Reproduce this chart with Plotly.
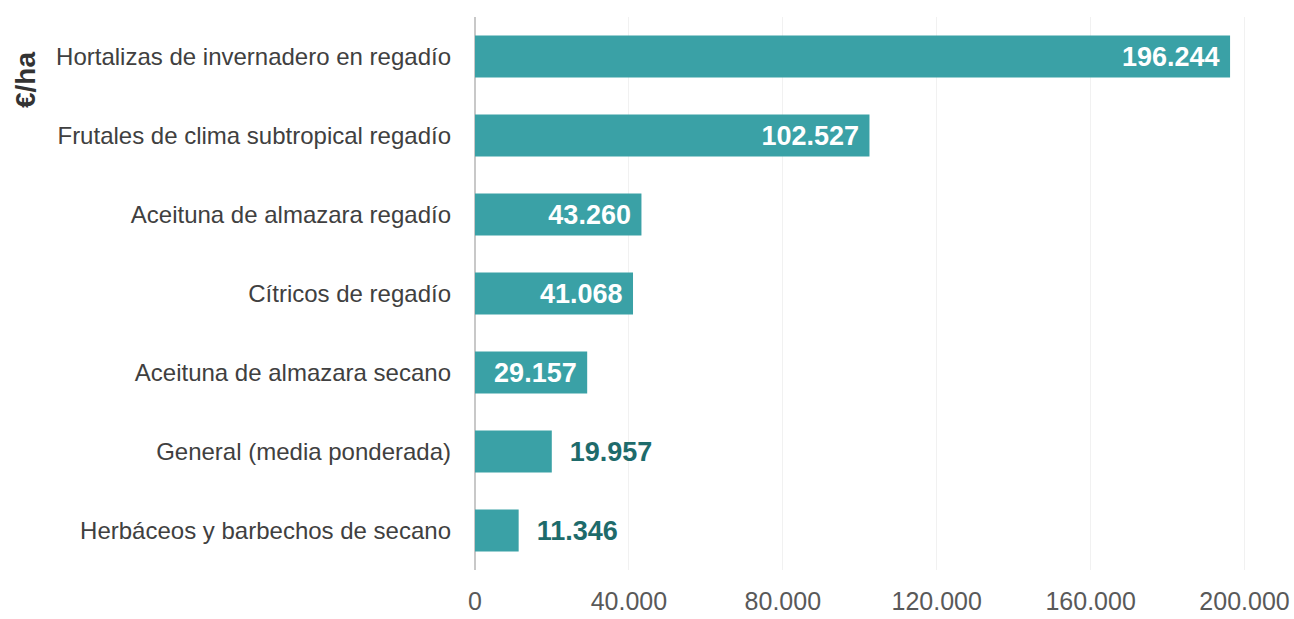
import plotly.graph_objects as go

# Valor de la producción por hectárea según orientación productiva (€/ha)
categorias = [
    "Hortalizas de invernadero en regadío",
    "Frutales de clima subtropical regadío",
    "Aceituna de almazara regadío",
    "Cítricos de regadío",
    "Aceituna de almazara secano",
    "General (media ponderada)",
    "Herbáceos y barbechos de secano",
]
valores = [196244, 102527, 43260, 41068, 29157, 19957, 11346]
ticks_x = [0, 40000, 80000, 120000, 160000, 200000]

COLOR_BARRA = "#3aa1a6"
COLOR_ETIQ_FUERA = "#1e6b6b"
FUENTE = "Liberation Sans, Arial, sans-serif"

# Etiquetas dentro de la barra si hay espacio, fuera en caso contrario
umbral = 25000


def formato(v):
    return f"{v:,}".replace(",", ".")


posiciones = ["inside" if v >= umbral else "outside" for v in valores]
textos = [formato(v) + " " if v >= umbral else "  " + formato(v) for v in valores]
colores_texto = ["white" if v >= umbral else COLOR_ETIQ_FUERA for v in valores]

fig = go.Figure(
    go.Bar(
        x=valores,
        y=categorias,
        orientation="h",
        marker=dict(color=COLOR_BARRA, line=dict(width=0)),
        width=0.53,
        text=textos,
        textposition=posiciones,
        insidetextanchor="end",
        textfont=dict(family=FUENTE, size=27, color=colores_texto, weight="bold"),
        cliponaxis=False,
        hoverinfo="skip",
    )
)

ML, MR, MT, MB = 475, 11, 17, 49
W, H = 1294, 619

fig.update_layout(
    width=W,
    height=H,
    margin=dict(l=ML, r=MR, t=MT, b=MB),
    paper_bgcolor="white",
    plot_bgcolor="white",
    separators=",.",
    showlegend=False,
    font=dict(family=FUENTE),
)

fig.update_xaxes(
    range=[0, 210000],
    tickvals=ticks_x,
    tickformat=",d",
    showgrid=True,
    gridcolor="#f1f1f1",
    gridwidth=1,
    zeroline=True,
    zerolinecolor="#c8c8c8",
    zerolinewidth=1.5,
    showline=False,
    ticks="",
    ticklabelstandoff=14,
    automargin=False,
    tickfont=dict(size=25, color="#595959"),
)

fig.update_yaxes(
    autorange="reversed",
    showgrid=False,
    zeroline=False,
    showline=False,
    ticks="",
    ticklabelstandoff=23,
    automargin=False,
    tickfont=dict(size=24, color="#404040"),
)

# Título del eje vertical (unidades)
fig.add_annotation(
    text="<b>€/ha</b>",
    xref="paper", yref="paper",
    x=(26 - ML) / (W - ML - MR),
    y=1 - (80 - MT) / (H - MT - MB),
    xanchor="center", yanchor="middle",
    textangle=-90,
    showarrow=False,
    font=dict(size=28, color="#333333"),
)

fig.write_html("out.html")
